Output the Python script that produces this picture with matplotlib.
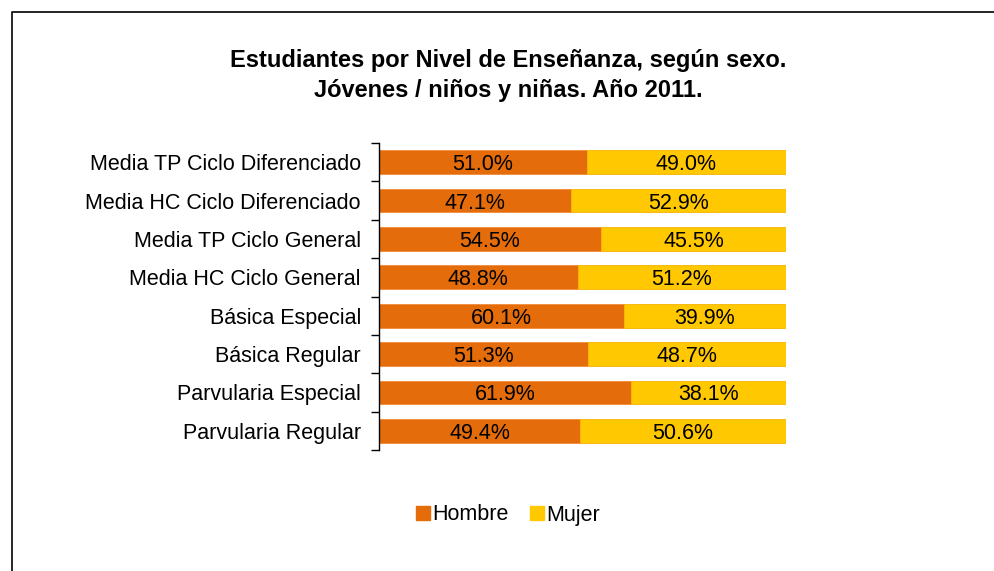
import numpy as np
import matplotlib.pyplot as plt
from matplotlib.lines import Line2D

categorias = ["Parvularia Regular", "Parvularia Especial", "Básica Regular", "Básica Especial",
              "Media HC Ciclo General", "Media TP Ciclo General", "Media HC Ciclo Diferenciado",
              "Media TP Ciclo Diferenciado"]
hombre = [49.4, 61.9, 51.3, 60.1, 48.8, 54.5, 47.1, 51.0]
mujer = [50.6, 38.1, 48.7, 39.9, 51.2, 45.5, 52.9, 49.0]

plt.rcParams['font.family'] = ['Liberation Sans', 'DejaVu Sans']

fig = plt.figure(figsize=(9.95, 5.71), dpi=100)
ax = fig.add_axes([379/995, 1-450/571, (786-379)/995, 307/571])

y = np.arange(len(categorias))
c_h = "#E46C0A"
c_m = "#FFC800"
b1 = ax.barh(y, hombre, height=0.62, color=c_h, edgecolor="#F08A3A", linewidth=0.6)
b2 = ax.barh(y, mujer, left=hombre, height=0.62, color=c_m, edgecolor="#F5B400", linewidth=0.6)
for vals, lefts in [(hombre, [0]*8), (mujer, hombre)]:
    for yy, v, l in zip(y, vals, lefts):
        ax.text(l + v/2, yy, f"{v:.1f}%", ha="center", va="center_baseline", fontsize=15.5, color="black")

ax.set_xlim(0, 100)
ax.set_ylim(-0.5, len(categorias) - 0.5)
ax.set_yticks(y)
ax.set_yticklabels(categorias, fontsize=15.5)
ax.set_yticks(np.arange(-0.5, len(categorias)), minor=True)
ax.tick_params(axis="y", which="major", length=0, pad=13)
ax.tick_params(axis="y", which="minor", length=6, width=1, direction="out")
ax.set_xticks([])
for s in ["top", "right", "bottom"]:
    ax.spines[s].set_visible(False)
ax.spines["left"].set_linewidth(1)

fig.text(508/995, 1-60/571, "Estudiantes por Nivel de Enseñanza, según sexo.", ha="center", va="center",
         fontsize=17, fontweight="bold")
fig.text(508/995, 1-90/571, "Jóvenes / niños y niñas. Año 2011.", ha="center", va="center",
         fontsize=17, fontweight="bold")

handles = [plt.Rectangle((0, 0), 1, 1, color=c_h), plt.Rectangle((0, 0), 1, 1, color=c_m)]
fig.legend(handles, ["Hombre", "Mujer"], loc="center", bbox_to_anchor=(508/995, 1-515/571), ncol=2,
           frameon=False, fontsize=15.5, handlelength=0.65, handleheight=0.65, handletextpad=0.1,
           columnspacing=1.0)

fig.add_artist(Line2D([12/995, 12/995, 1], [0, 1-12/571, 1-12/571], color="black", linewidth=1.2))

fig.savefig("out.png", dpi=100)
